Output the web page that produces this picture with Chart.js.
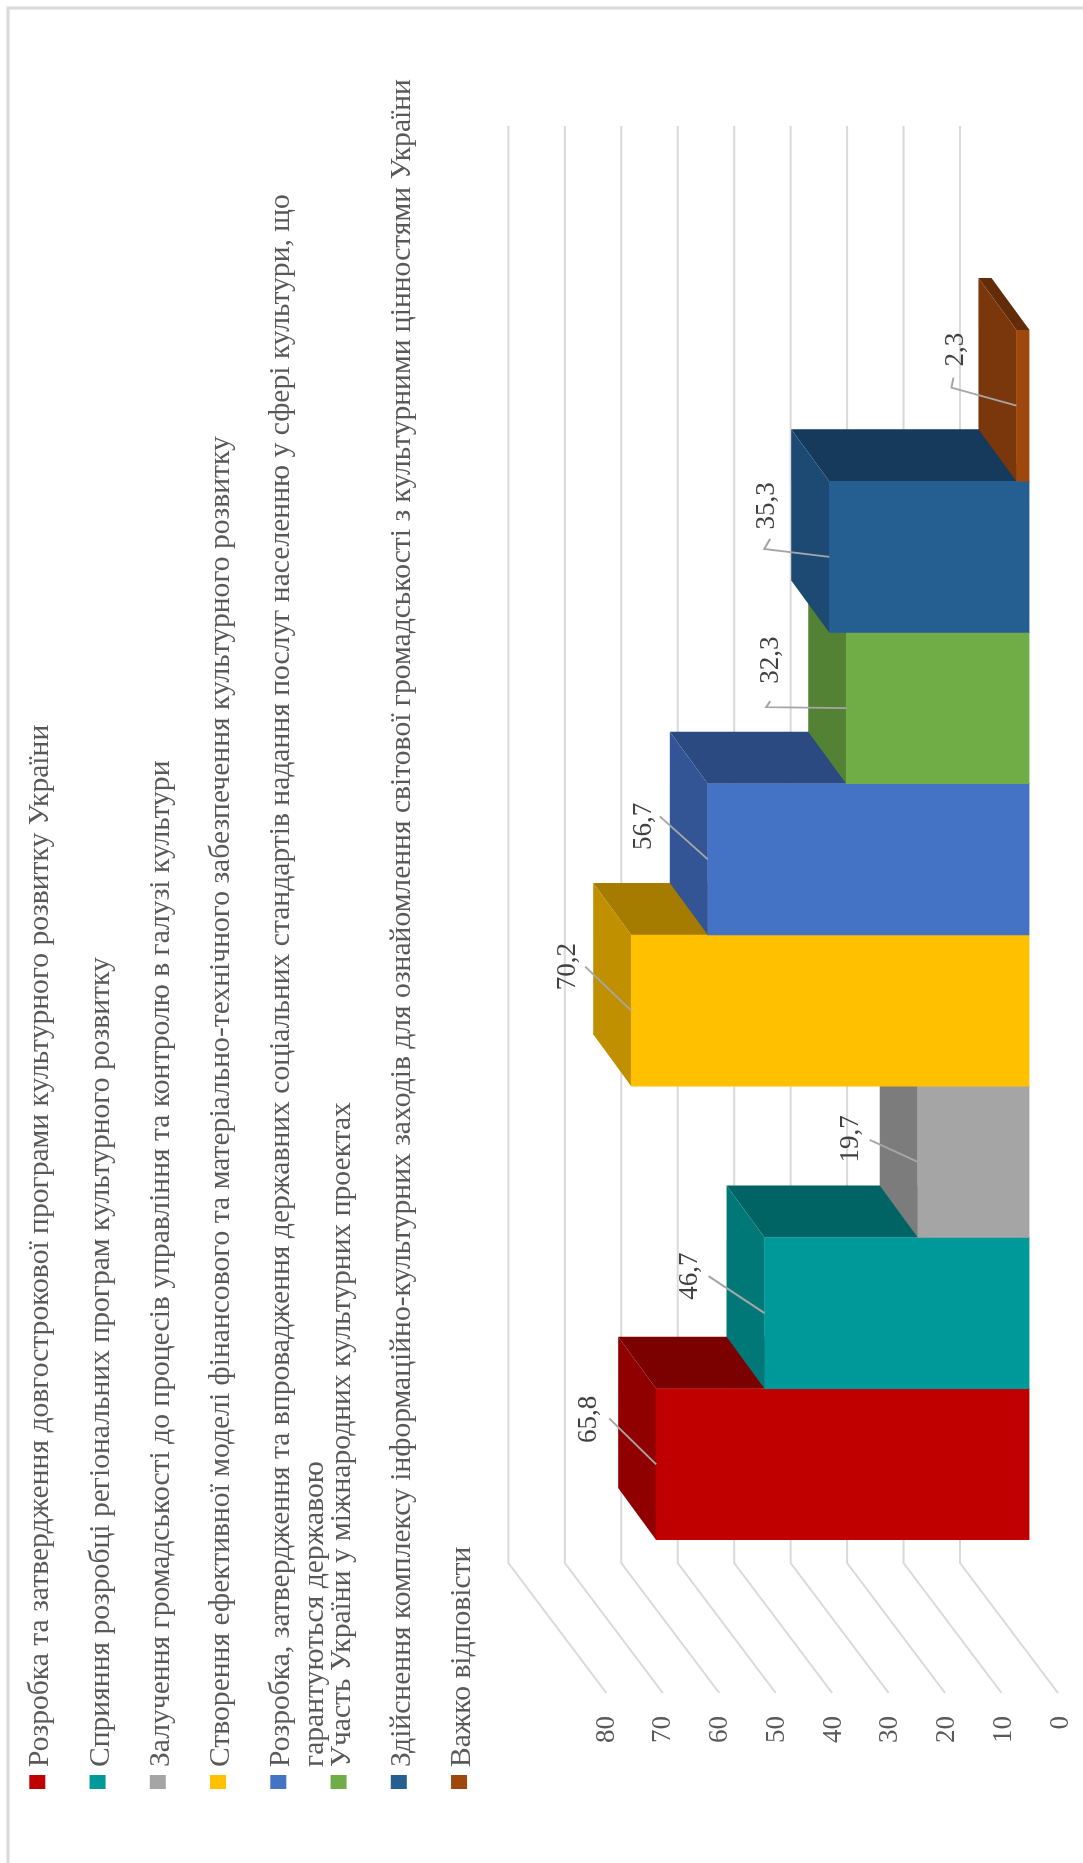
<!DOCTYPE html>
<html>
<head>
<meta charset="utf-8">
<title>Chart</title>
<style>
  html, body { margin: 0; padding: 0; background: #fff; }
  canvas { display: block; }
</style>
<script src="https://cdn.jsdelivr.net/npm/chart.js@4"></script>
</head>
<body>
<canvas id="myChart" width="1083" height="1863"></canvas>
<script>
const seriesNames = [
  "Розробка та затвердження довгострокової програми культурного розвитку України",
  "Сприяння розробці регіональних програм культурного розвитку",
  "Залучення громадськості до процесів управління та контролю в галузі культури",
  "Створення ефективної моделі фінансового та матеріально-технічного забезпечення культурного розвитку",
  "Розробка, затвердження та впровадження державних соціальних стандартів надання послуг населенню у сфері культури, що\nгарантуються державою",
  "Участь України у міжнародних культурних проектах",
  "Здійснення комплексу інформаційно-культурних заходів для ознайомлення світової громадськості з культурними цінностями України",
  "Важко відповісти",
];
const seriesValues = [65.8, 46.7, 19.7, 70.2, 56.7, 32.3, 35.3, 2.3];
const valueTicks = [0, 10, 20, 30, 40, 50, 60, 70, 80];

const frontColors = ["#C00000", "#009999", "#A5A5A5", "#FFC000", "#4472C4", "#70AD47", "#255E91", "#9E480E"];
const endColors = ["#900000", "#007878", "#7C7C7C", "#C09000", "#335595", "#548235", "#1C4A73", "#7A370B"];
const sideColors = ["#7B0000", "#006464", "#666666", "#A67C00", "#2B4A82", "#4A7530", "#163A5C", "#632C08"];

// leader line of each data label, relative to the middle of the bar end
const leaderPoints = [
  [[-47, -46]],
  [[-56, -37]],
  [[-48, -22]],
  [[-46, -44]],
  [[-48, -43]],
  [[-76, -7], [-80, -1]],
  [[-59, -18], [-65, -8]],
  [[-63, -28], [-65, -18]],
];
const labelOffsets = [[-67, -45], [-75, -37], [-67, -23], [-63, -44], [-64, -33], [-75, -48], [-62, -51], [-61, -56]];

const FONT = '"Liberation Serif", "Times New Roman", serif';
const TEXT_COLOR = "#595959";
const GRID_COLOR = "#D9D9D9";
const DEPTH_X = -38;
const DEPTH_Y = -52;

function poly(ctx, pts, color) {
  ctx.fillStyle = color;
  ctx.beginPath();
  pts.forEach((p, i) => (i ? ctx.lineTo(p[0], p[1]) : ctx.moveTo(p[0], p[1])));
  ctx.closePath();
  ctx.fill();
}

const frame3d = {
  id: "frame3d",
  beforeDraw(chart) {
    const ctx = chart.ctx;
    ctx.save();
    ctx.fillStyle = "#fff";
    ctx.fillRect(0, 0, chart.width, chart.height);
    ctx.strokeStyle = "#DADADA";
    ctx.lineWidth = 3;
    ctx.beginPath();
    ctx.moveTo(8, chart.height);
    ctx.lineTo(8, 8);
    ctx.lineTo(chart.width, 8);
    ctx.stroke();
    ctx.restore();
  },
  beforeDatasetsDraw(chart) {
    // back wall and floor lines follow the value scale
    const ctx = chart.ctx;
    const x = chart.scales.x;
    const zero = x.getPixelForValue(0);
    ctx.save();
    ctx.strokeStyle = GRID_COLOR;
    ctx.lineWidth = 2;
    valueTicks.forEach((v) => {
      const px = zero - 69.5 + (x.getPixelForValue(v) - zero) * 0.995;
      ctx.beginPath();
      ctx.moveTo(px, 126);
      ctx.lineTo(px, 1563);
      ctx.lineTo(px + 98, 1693);
      ctx.stroke();
    });
    ctx.restore();
  },
  beforeDatasetDraw(chart, args) {
    // end and side faces of the bar, the library paints the front on top
    const ctx = chart.ctx;
    const i = args.index;
    const bar = chart.getDatasetMeta(i).data[0];
    const top = bar.y - bar.height / 2;
    const bottom = bar.y + bar.height / 2;
    poly(ctx, [[bar.x, top], [bar.x + DEPTH_X, top + DEPTH_Y], [bar.base + DEPTH_X, top + DEPTH_Y], [bar.base, top]], sideColors[i]);
    poly(ctx, [[bar.x, top], [bar.x + DEPTH_X, top + DEPTH_Y], [bar.x + DEPTH_X, bottom + DEPTH_Y], [bar.x, bottom]], endColors[i]);
  },
  afterDatasetsDraw(chart) {
    const ctx = chart.ctx;
    ctx.save();
    seriesValues.forEach((v, i) => {
      const bar = chart.getDatasetMeta(i).data[0];
      ctx.strokeStyle = "#A6A6A6";
      ctx.lineWidth = 2;
      ctx.beginPath();
      ctx.moveTo(bar.x, bar.y);
      leaderPoints[i].slice().reverse().forEach((p) => ctx.lineTo(bar.x + p[0], bar.y + p[1]));
      ctx.stroke();

      ctx.save();
      ctx.translate(bar.x + labelOffsets[i][0], bar.y + labelOffsets[i][1]);
      ctx.rotate(-Math.PI / 2);
      ctx.fillStyle = "#404040";
      ctx.font = "27px " + FONT;
      ctx.textAlign = "center";
      ctx.textBaseline = "middle";
      ctx.fillText(v.toFixed(1).replace(".", ","), 0, 0);
      ctx.restore();
    });

    // legend, turned with the rest of the picture
    seriesNames.forEach((name, i) => {
      const cx = 37.3 + i * 60.25;
      ctx.fillStyle = frontColors[i];
      ctx.fillRect(cx - 8, 1775, 16, 14);
      ctx.fillStyle = TEXT_COLOR;
      ctx.font = "29.6px " + FONT;
      ctx.textAlign = "left";
      ctx.textBaseline = "alphabetic";
      name.split("\n").forEach((line, n) => {
        ctx.save();
        ctx.translate(cx + 11 + n * 34, 1767);
        ctx.rotate(-Math.PI / 2);
        ctx.fillText(line, 0, 0);
        ctx.restore();
      });
    });
    ctx.restore();
  },
};

new Chart(document.getElementById("myChart"), {
  type: "bar",
  data: {
    labels: [""],
    datasets: seriesNames.map((name, i) => ({
      label: name,
      data: [seriesValues[i]],
      backgroundColor: frontColors[i],
      order: seriesNames.length - i,
    })),
  },
  options: {
    indexAxis: "y",
    responsive: false,
    animation: false,
    layout: { padding: { left: 575.6, right: 53.5, top: 330, bottom: 73 } },
    datasets: { bar: { barPercentage: 1, categoryPercentage: 1 } },
    scales: {
      x: {
        reverse: true,
        min: 0,
        max: 80,
        afterBuildTicks(scale) {
          scale.ticks = valueTicks.map((value) => ({ value }));
        },
        afterFit(scale) {
          scale.height = 250;
        },
        grid: { display: false, drawTicks: false },
        border: { display: false },
        ticks: {
          autoSkip: false,
          minRotation: 90,
          maxRotation: 90,
          padding: 176,
          labelOffset: 31,
          color: TEXT_COLOR,
          font: { size: 27, family: FONT },
        },
      },
      y: { display: false },
    },
    plugins: {
      legend: { display: false },
      tooltip: { enabled: false },
    },
  },
  plugins: [frame3d],
});
</script>
</body>
</html>
